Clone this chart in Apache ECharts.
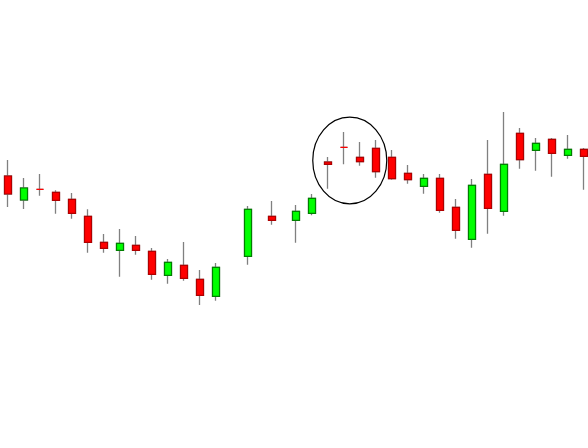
<!DOCTYPE html>
<html>
<head>
<meta charset="utf-8">
<script src="https://cdn.jsdelivr.net/npm/echarts@6/dist/echarts.min.js"></script>
<style>html,body{margin:0;padding:0;background:#fff}#c{width:588px;height:448px}</style>
</head>
<body>
<div id="c"></div>
<script>
// Day index of each candle (gaps are non-trading days)
var days = [1,3,5,7,9,11,13,15,17,19,21,23,25,27,31,34,37,39,41,43,45,47,49,51,53,55,57,59,61,63,65,67,69,71,73];
var opens  = [272,248,258.7,255.7,248.7,231.7,205.7,197.7,202.7,196.7,172.7,182.7,168.7,151.7,191.7,231.7,227.7,234.7,286,300.7,290.7,299.7,290.7,274.7,261.7,269.7,240.7,208.7,273.7,236.7,314.7,297.7,308.7,292.7,298.7];
var closes = [254,260,258.7,247.7,234.7,205.7,199.7,204.7,197.7,173.7,185.7,169.7,152.7,180.7,238.7,227.7,236.7,249.7,283.7,300.7,286.3,276.3,269.3,268.3,269.7,237.7,217.7,262.7,239.7,283.7,288.3,304.7,294.7,298.7,291.7];
var lows   = [241,239,252.3,234.3,229.3,195.3,195.3,171.3,193.3,168.3,164.3,167.3,143,147.3,183.3,223.3,205.3,232.7,259.3,283.7,282.3,270.3,268.3,264.3,254.3,235.3,209.3,200.3,214.3,232.3,279.3,277.3,271.3,289.3,258.3];
var highs  = [288,270,274,257.7,255,238.7,214,219,212,200,189,206,178,185,242,247,243,254,291,316,306,308,298,283,274,274,249,269,308,336,320,310,310,313,300];
// Annotation: circle around the small-bodied candles (in data units)
var noteCenter = [43.72, 287.5];

var wickData = days.map(function (d, i) { return [d, opens[i], closes[i], lows[i], highs[i]]; });
var bodyData = days.map(function (d, i) {
  return [d, opens[i], closes[i], Math.min(opens[i], closes[i]), Math.max(opens[i], closes[i])];
});

var chart = echarts.init(document.getElementById('c'), null, { renderer: 'canvas' });
chart.setOption({
  animation: false,
  backgroundColor: '#ffffff',
  grid: { left: 0, right: 0, top: 0, bottom: 0 },
  xAxis: { type: 'value', min: 0, max: 73.5, show: false, splitLine: { show: false } },
  yAxis: { type: 'value', min: 0, max: 448, show: false, splitLine: { show: false } },
  series: [
    {
      type: 'candlestick',
      data: wickData,
      encode: { x: 0, y: [1, 2, 3, 4] },
      barWidth: 8,
      clip: false,
      itemStyle: {
        color: 'rgba(0,0,0,0)', color0: 'rgba(0,0,0,0)',
        borderColor: '#808080', borderColor0: '#808080', borderColorDoji: '#808080',
        borderWidth: 1.3
      }
    },
    {
      type: 'candlestick',
      data: bodyData,
      encode: { x: 0, y: [1, 2, 3, 4] },
      barWidth: 8,
      clip: false,
      itemStyle: {
        color: '#00ff00', color0: '#ff0000',
        borderColor: '#008000', borderColor0: '#b00000', borderColorDoji: '#ff0000',
        borderWidth: 1.2
      }
    }
  ]
});

var p = chart.convertToPixel({ gridIndex: 0 }, noteCenter);
chart.setOption({
  graphic: [{
    type: 'ellipse',
    shape: { cx: p[0], cy: p[1], rx: 37, ry: 43.3 },
    style: { fill: 'none', stroke: '#000000', lineWidth: 1.2 },
    z: 100
  }]
});
</script>
</body>
</html>
